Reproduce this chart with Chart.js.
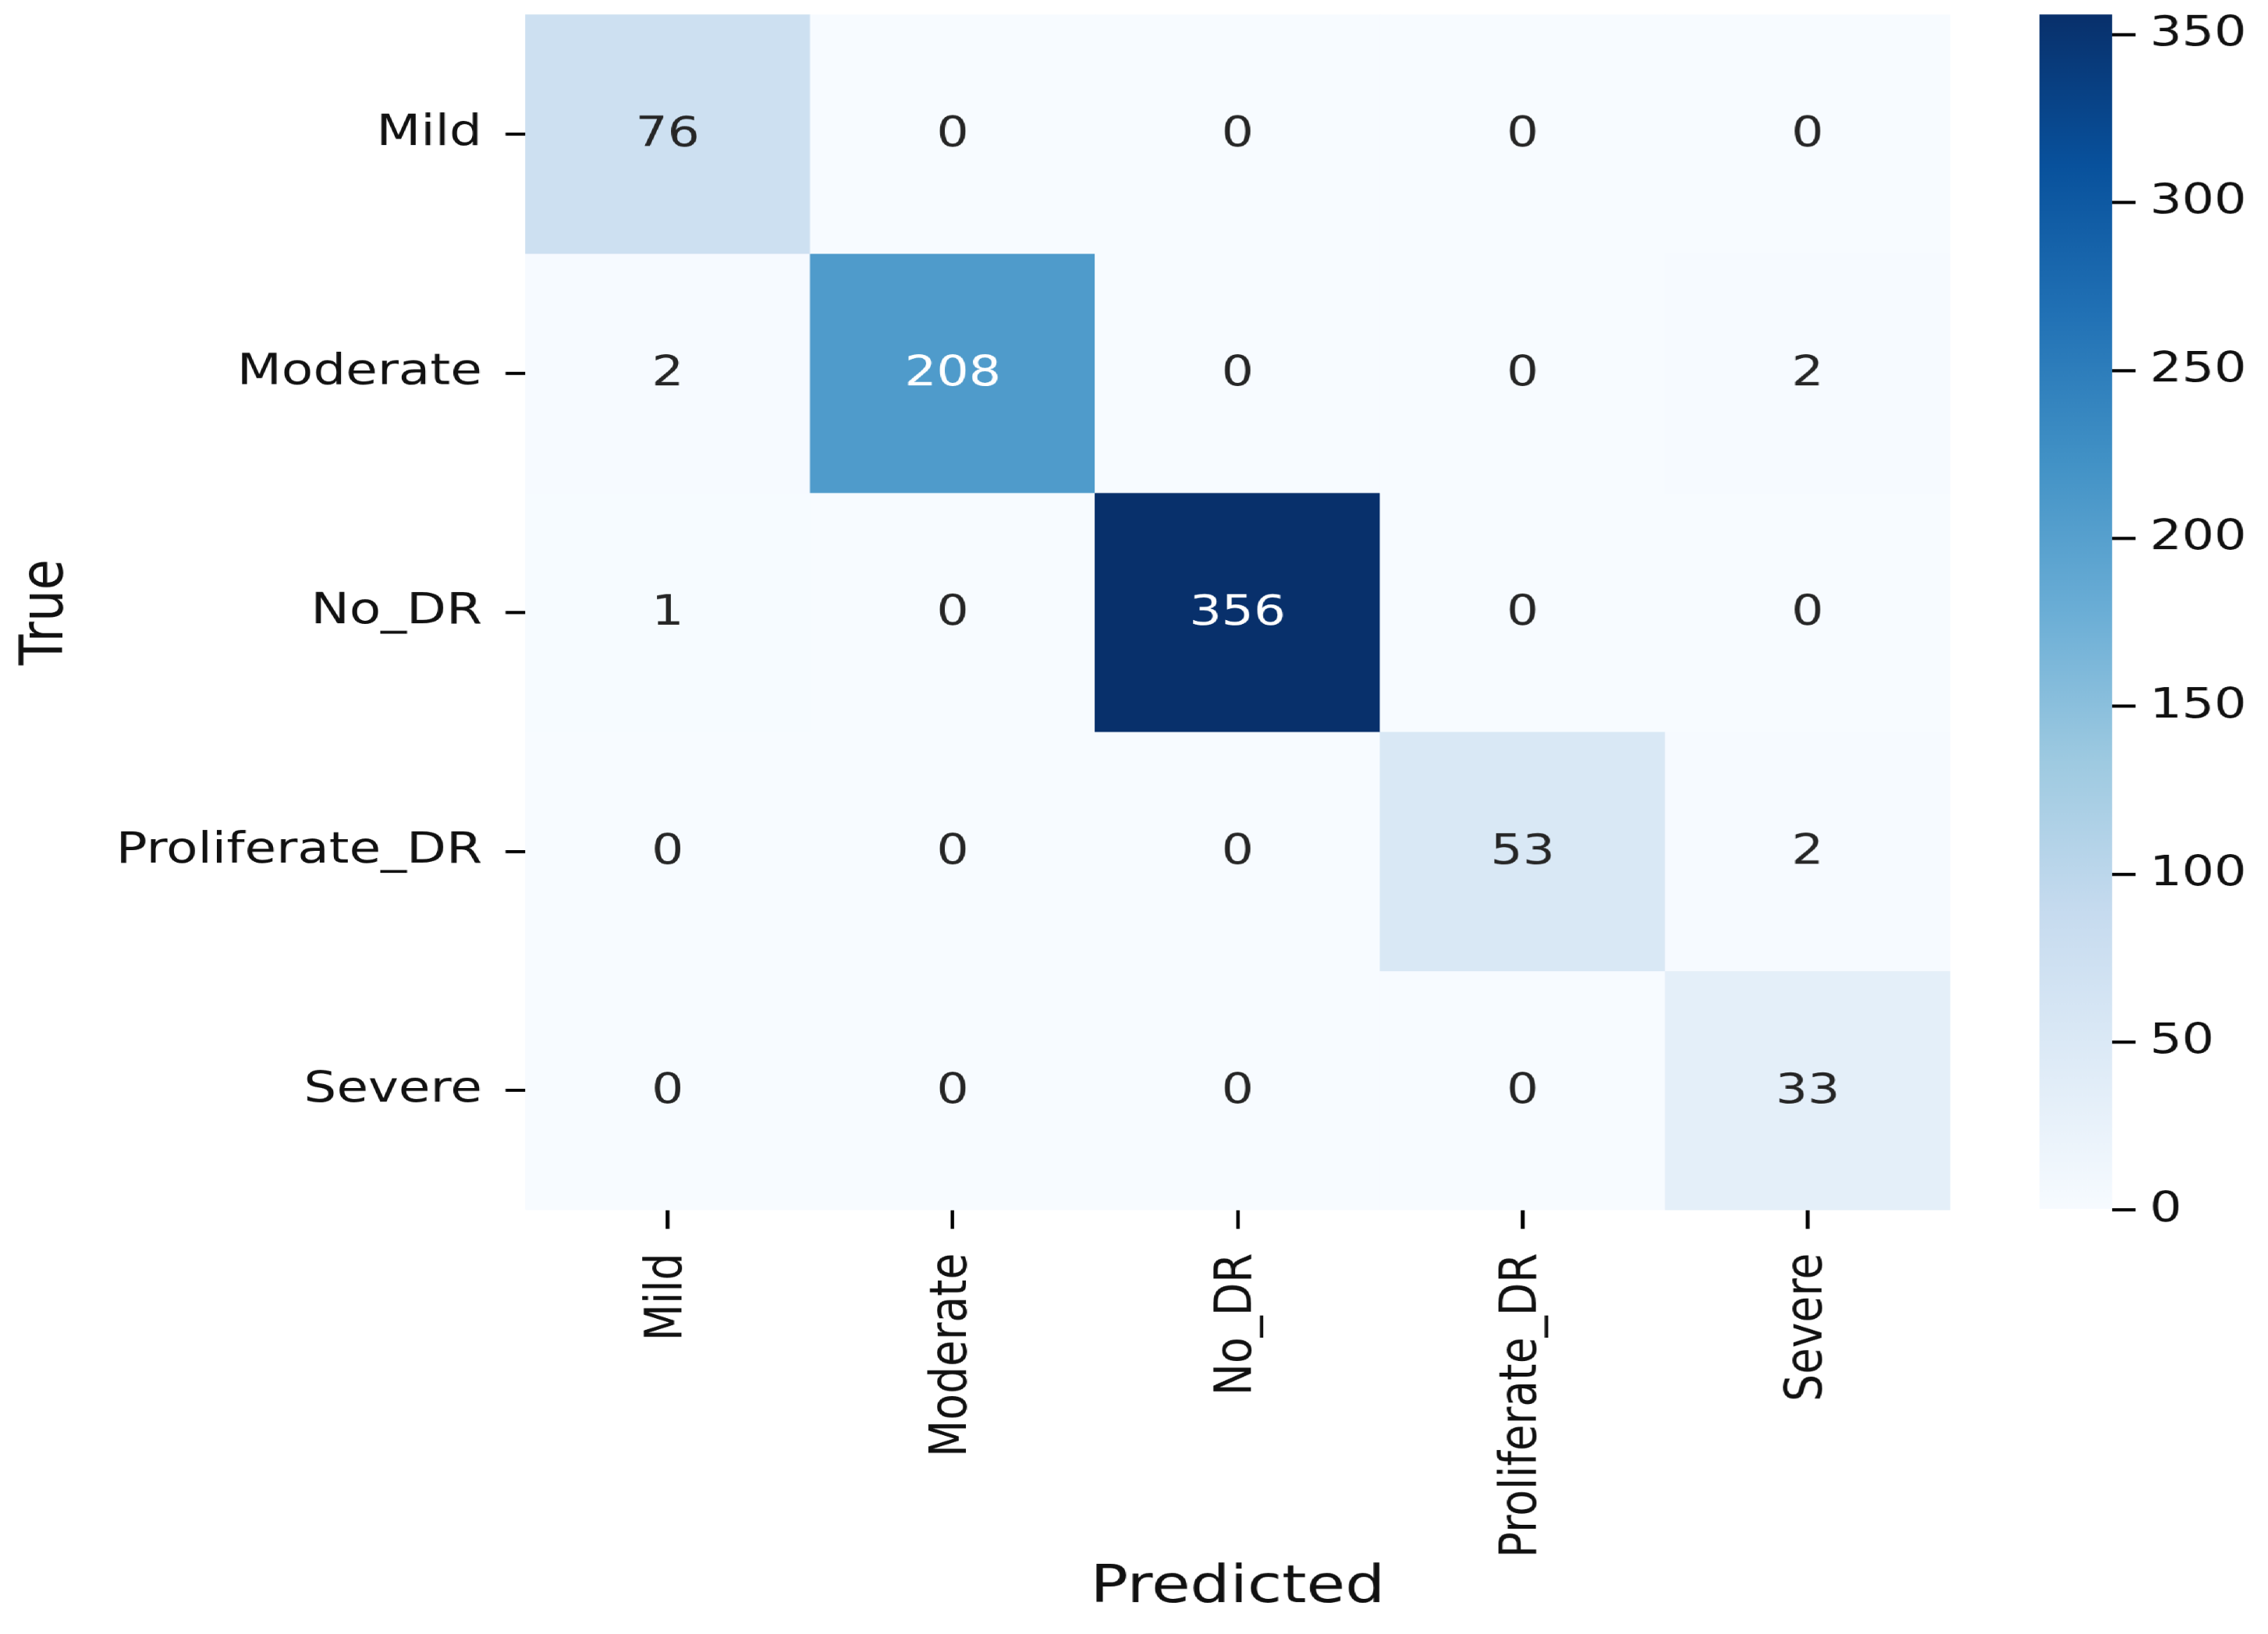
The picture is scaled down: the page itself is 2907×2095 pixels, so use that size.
<!DOCTYPE html>
<html>
<head>
<meta charset="utf-8">
<title>Confusion matrix</title>
<script src="https://cdn.jsdelivr.net/npm/chart.js@4.4.1/dist/chart.umd.min.js"></script>
<style>
  html, body { margin: 0; padding: 0; background: #fff; overflow: hidden; }
  /* the reference is stretched sideways, so the whole stage is too */
  #stage { position: absolute; left: 0; top: 0; width: 2423px; height: 2095px; transform: scaleX(1.2); transform-origin: 0 0; }
  #heat { position: absolute; left: 0; top: 0; }
  #bar { position: absolute; left: 2140px; top: 0; }
</style>
</head>
<body>
<div id="stage">
  <canvas id="heat" width="2423" height="2095"></canvas>
  <canvas id="bar" width="283" height="2095"></canvas>
</div>
<script>
let trueLabels = ["Mild", "Moderate", "No_DR", "Proliferate_DR", "Severe"];
let predLabels = ["Mild", "Moderate", "No_DR", "Proliferate_DR", "Severe"];

// one row per true class, one value per predicted class
let mildRow = [76, 0, 0, 0, 0];
let moderateRow = [2, 208, 0, 0, 2];
let noDrRow = [1, 0, 356, 0, 0];
let proliferateRow = [0, 0, 0, 53, 2];
let severeRow = [0, 0, 0, 0, 33];

let colorbarTicks = [0, 50, 100, 150, 200, 250, 300, 350];

let rows = [mildRow, moderateRow, noDrRow, proliferateRow, severeRow];
let vmin = 0;
let vmax = Math.max(...rows.flat());

const family = '"DejaVu Sans", sans-serif';
const ink = '#111';
const blues = ['#f7fbff', '#deebf7', '#c6dbef', '#9ecae1', '#6baed6', '#4292c6', '#2171b5', '#08519c', '#08306b'];

function hexRgb(h) {
    return [parseInt(h.slice(1, 3), 16), parseInt(h.slice(3, 5), 16), parseInt(h.slice(5, 7), 16)];
}

function bluesRgb(v) {
    let t = Math.min(1, Math.max(0, (v - vmin) / (vmax - vmin)));
    let p = t * (blues.length - 1);
    let i = Math.min(Math.floor(p), blues.length - 2);
    let f = p - i;
    let a = hexRgb(blues[i]), b = hexRgb(blues[i + 1]);
    return a.map((c, k) => Math.round(c + (b[k] - c) * f));
}

function rgbStr(c) {
    return 'rgb(' + c.join(',') + ')';
}

// seaborn picks white text on dark cells
function textColor(v) {
    let lin = bluesRgb(v).map(c => {
        c = c / 255;
        return c <= 0.03928 ? c / 12.92 : Math.pow((c + 0.055) / 1.055, 2.4);
    });
    let lum = 0.2126 * lin[0] + 0.7152 * lin[1] + 0.0722 * lin[2];
    return lum > 0.408 ? '#262626' : '#ffffff';
}

// keep Chart.js from pushing the plot area in for half-labels
function noEdgePadding(s) {
    s.paddingTop = 0;
    s.paddingBottom = 0;
    s.paddingLeft = 0;
    s.paddingRight = 0;
}

const annotate = {
    id: 'annotate',
    afterDatasetsDraw(chart) {
        const ctx = chart.ctx;
        ctx.save();
        ctx.font = '54px ' + family;
        ctx.textAlign = 'center';
        ctx.textBaseline = 'middle';
        chart.data.datasets.forEach((ds, r) => {
            chart.getDatasetMeta(r).data.forEach((bar, c) => {
                const v = ds.values[c];
                const p = bar.getProps(['x', 'y', 'base'], true);
                ctx.fillStyle = textColor(v);
                ctx.fillText(String(v), p.x, (p.y + p.base) / 2 + 2);
            });
        });
        ctx.restore();
    }
};

let heatSets = rows.map((row, r) => ({
    label: trueLabels[r],
    data: predLabels.map(() => [r, r + 1]),
    values: row,
    backgroundColor: row.map(v => rgbStr(bluesRgb(v))),
    borderWidth: 0,
    borderSkipped: false,
    barPercentage: 1,
    categoryPercentage: 1,
    grouped: false
}));

new Chart(document.getElementById('heat'), {
    type: 'bar',
    data: { labels: predLabels, datasets: heatSets },
    plugins: [annotate],
    options: {
        responsive: false,
        animation: false,
        devicePixelRatio: 1.2,
        layout: { padding: { top: 18.5, right: 340.5, left: 0, bottom: 0 } },
        plugins: { legend: { display: false }, tooltip: { enabled: false } },
        scales: {
            x: {
                type: 'category',
                offset: true,
                grid: { offset: false, drawOnChartArea: false, tickLength: 24, color: '#000', lineWidth: 4 },
                border: { display: false },
                ticks: { color: ink, font: { family: family, size: 55 }, minRotation: 90, maxRotation: 90, padding: 31, autoSkip: false },
                title: { display: true, text: 'Predicted', color: ink, font: { family: family, size: 67 }, padding: { top: 18, bottom: 18 } },
                afterFit(s) { s.height = 543.5; noEdgePadding(s); }
            },
            y: {
                type: 'linear',
                min: 0,
                max: 5,
                reverse: true,
                afterBuildTicks(s) { s.ticks = trueLabels.map((l, i) => ({ value: i + 0.5 })); },
                grid: { drawOnChartArea: false, tickLength: 21, color: '#000', lineWidth: 4 },
                border: { display: false },
                ticks: { color: ink, font: { family: family, size: 55 }, padding: 25, callback: (v, i) => trueLabels[i] },
                title: { display: true, text: 'True', color: ink, font: { family: family, size: 64 }, padding: { top: 12, bottom: 12 } },
                afterFit(s) { s.width = 560.8; noEdgePadding(s); }
            }
        }
    }
});

new Chart(document.getElementById('bar'), {
    type: 'bar',
    data: {
        labels: [''],
        datasets: [{
            data: [[vmin, vmax]],
            backgroundColor(c) {
                const area = c.chart.chartArea;
                if (!area) return blues[0];
                const g = c.chart.ctx.createLinearGradient(0, area.bottom, 0, area.top);
                blues.forEach((h, i) => g.addColorStop(i / (blues.length - 1), h));
                return g;
            },
            borderWidth: 0,
            barPercentage: 1,
            categoryPercentage: 1
        }]
    },
    options: {
        responsive: false,
        animation: false,
        devicePixelRatio: 1.2,
        layout: { padding: { top: 18.5, left: 38.3, right: 0, bottom: 543.5 } },
        plugins: { legend: { display: false }, tooltip: { enabled: false } },
        scales: {
            x: { display: false },
            y: {
                position: 'right',
                min: vmin,
                max: vmax,
                afterBuildTicks(s) { s.ticks = colorbarTicks.map(v => ({ value: v })); },
                grid: { drawOnChartArea: false, tickLength: 25, color: '#000', lineWidth: 4 },
                border: { display: false },
                ticks: { color: ink, font: { family: family, size: 54 }, padding: 15 },
                afterFit(s) { s.width = 283 - 38.3 - 77.5; noEdgePadding(s); }
            }
        }
    }
});
</script>
</body>
</html>
